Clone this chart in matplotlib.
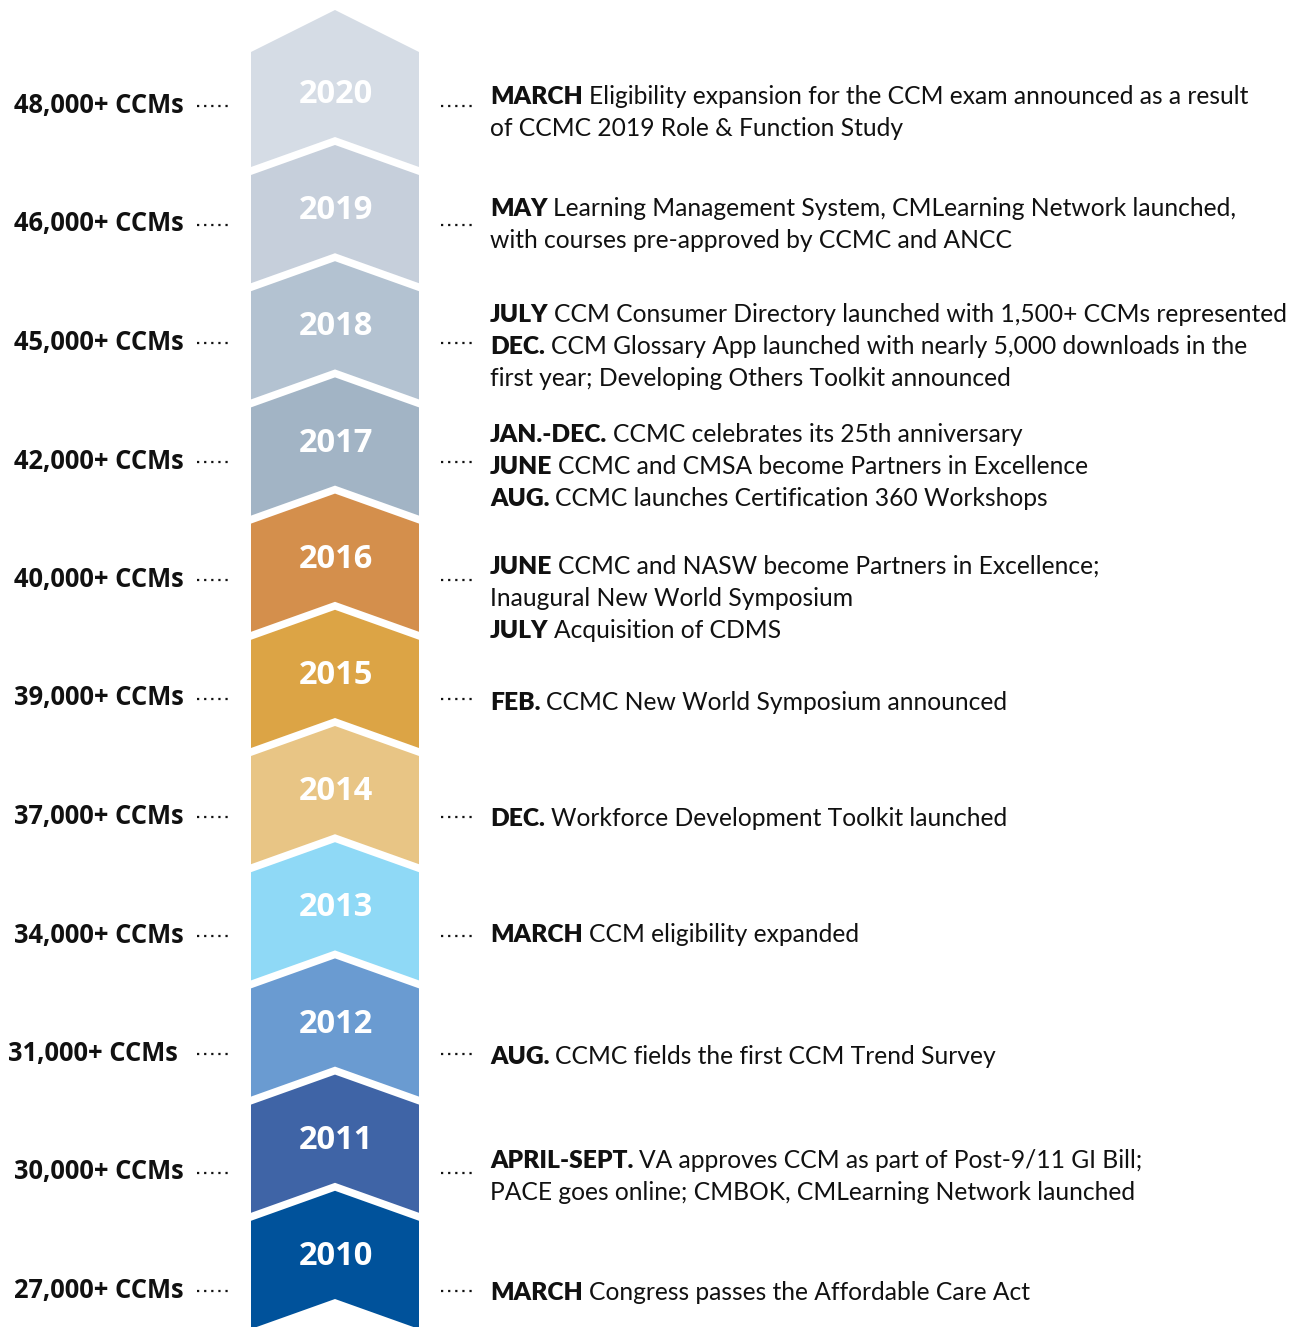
import matplotlib
matplotlib.use("Agg")
import matplotlib.pyplot as plt
from matplotlib.patches import Polygon

# data
years = ["2020", "2019", "2018", "2017", "2016", "2015", "2014", "2013", "2012", "2011", "2010"]
counts = ["48,000+ CCMs", "46,000+ CCMs", "45,000+ CCMs", "42,000+ CCMs", "40,000+ CCMs",
          "39,000+ CCMs", "37,000+ CCMs", "34,000+ CCMs", "31,000+ CCMs", "30,000+ CCMs",
          "27,000+ CCMs"]
colors = ["#d5dce5", "#c6cfdb", "#b3c2d1", "#a2b4c5", "#d48f4c", "#dca445", "#e8c585",
          "#8fd9f6", "#6a9bd1", "#3f64a6", "#00529b"]
events = [
    [("MARCH", "Eligibility expansion for the CCM exam announced as a result"),
     ("", "of CCMC 2019 Role & Function Study")],
    [("MAY", "Learning Management System, CMLearning Network launched,"),
     ("", "with courses pre-approved by CCMC and ANCC")],
    [("JULY", "CCM Consumer Directory launched with 1,500+ CCMs represented"),
     ("DEC.", "CCM Glossary App launched with nearly 5,000 downloads in the"),
     ("", "first year; Developing Others Toolkit announced")],
    [("JAN.-DEC.", "CCMC celebrates its 25th anniversary"),
     ("JUNE", "CCMC and CMSA become Partners in Excellence"),
     ("AUG.", "CCMC launches Certification 360 Workshops")],
    [("JUNE", "CCMC and NASW become Partners in Excellence;"),
     ("", "Inaugural New World Symposium"),
     ("JULY", "Acquisition of CDMS")],
    [("FEB.", "CCMC New World Symposium announced")],
    [("DEC.", "Workforce Development Toolkit launched")],
    [("MARCH", "CCM eligibility expanded")],
    [("AUG.", "CCMC fields the first CCM Trend Survey")],
    [("APRIL-SEPT.", "VA approves CCM as part of Post-9/11 GI Bill;"),
     ("", "PACE goes online; CMBOK, CMLearning Network launched")],
    [("MARCH", "Congress passes the Affordable Care Act")],
]
event_top = [95, 207, 313, 433, 565, 701, 817, 933, 1055, 1159, 1291]

W, H = 1299, 1327
fig = plt.figure(figsize=(W / 100, H / 100), dpi=100)
ax = fig.add_axes([0, 0, 1, 1])
ax.set_xlim(0, W)
ax.set_ylim(H, 0)
ax.axis("off")

ink = "#111111"
body_font = "Lato"
head_font = "Open Sans"

# chevron column
x0, x1 = 251, 419
xc = (x0 + x1) / 2
step = 116.2
drop = 30
gap = 8

def top_peak(i):
    if i == 0:
        return 10
    return 145 + step * (i - 1)

for i, (yr, col) in enumerate(zip(years, colors)):
    tp = top_peak(i)
    ts = 52 if i == 0 else tp + drop
    bp = top_peak(i + 1) - gap
    bs = bp + drop
    poly = Polygon([(x0, ts), (xc, tp), (x1, ts), (x1, bs), (xc, bp), (x0, bs)],
                   closed=True, facecolor=col, edgecolor="none")
    ax.add_patch(poly)
    ax.text(xc + 1, 103 + step * i, yr, color="white", fontsize=23.5, fontweight="bold",
            family=head_font, ha="center", va="baseline")

# left labels and leader dots
row = 118.5
for i, c in enumerate(counts):
    base = 113 + row * i
    xr = 178 if c.startswith("31") else 184
    ax.text(xr, base, c, color=ink, fontsize=18.4, fontweight="bold", family=head_font,
            ha="right", va="baseline")
    dy = base - 7
    ax.plot([197, 229], [dy, dy], color=ink, lw=1.6, ls=(0, (1, 2.2)))
    ax.plot([441, 473], [dy, dy], color=ink, lw=1.6, ls=(0, (1, 2.2)))

# right event text
renderer = fig.canvas.get_renderer()
fs = 17.7
for i, lines in enumerate(events):
    for k, (b, r) in enumerate(lines):
        y = event_top[i] + 9 + 32 * k
        x = 490
        if b:
            t = ax.text(x, y, b, color=ink, fontsize=fs, fontweight="heavy",
                        family=body_font, va="baseline")
            bb = t.get_window_extent(renderer)
            x = bb.x1 + 6
        ax.text(x, y, r, color=ink, fontsize=fs, family=body_font, va="baseline")

fig.savefig("out.png", dpi=100, facecolor="white")
